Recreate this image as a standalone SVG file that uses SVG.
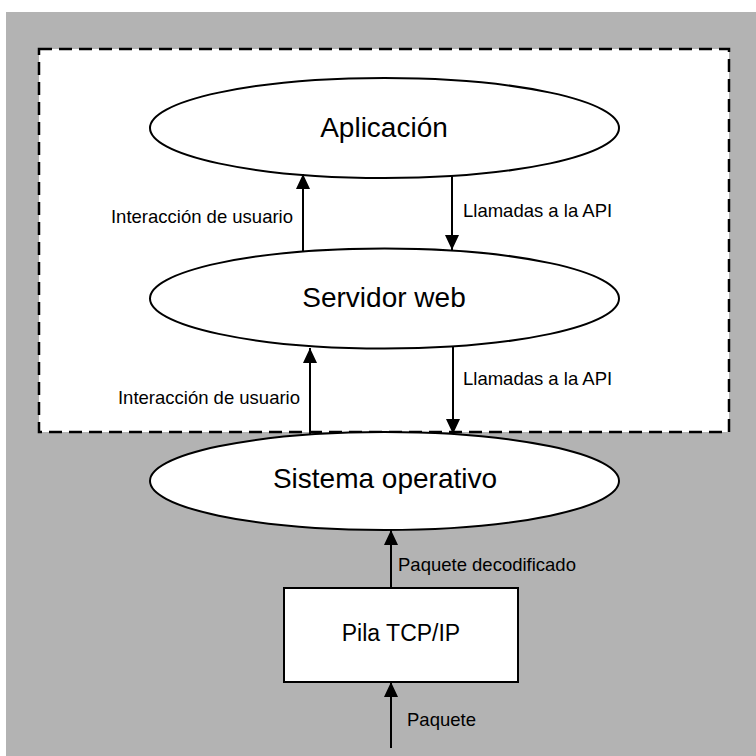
<svg xmlns="http://www.w3.org/2000/svg" width="756" height="756" viewBox="0 0 756 756">
  <style>
    .node { fill: #ffffff; stroke: #000000; stroke-width: 2; }
    .title { font-family: "Liberation Sans", Arial, sans-serif; font-size: 28px; fill: #000000; text-anchor: middle; }
    .box-title { font-family: "Liberation Sans", Arial, sans-serif; font-size: 23px; fill: #000000; text-anchor: middle; }
    .label { font-family: "Liberation Sans", Arial, sans-serif; font-size: 18.5px; fill: #000000; }
    .label-end { text-anchor: end; }
    .edge { stroke: #000000; stroke-width: 2; fill: none; marker-end: url(#arrow); }
  </style>
  <defs>
    <marker id="arrow" markerUnits="userSpaceOnUse" markerWidth="16" markerHeight="16" viewBox="0 0 16 16" refX="15" refY="8" orient="auto">
      <path d="M0,1 L15,8 L0,15 Z" fill="#000000"/>
    </marker>
  </defs>

  <!-- background -->
  <rect x="0" y="0" width="756" height="756" fill="#ffffff"/>
  <rect x="6" y="12" width="750" height="744" fill="#b3b3b3"/>

  <!-- dashed boundary around the web tier -->
  <rect id="web-tier" x="39" y="49" width="690" height="383" fill="#ffffff" stroke="#000000" stroke-width="2.5" stroke-dasharray="13 7"/>

  <g id="aplicacion">
    <ellipse class="node" cx="384.5" cy="128" rx="234.5" ry="50"/>
    <text class="title" x="384" y="137">Aplicación</text>
  </g>

  <g id="servidor-web">
    <ellipse class="node" cx="384.5" cy="298.5" rx="234.5" ry="50"/>
    <text class="title" x="384" y="307">Servidor web</text>
  </g>

  <g id="sistema-operativo">
    <ellipse class="node" cx="384.5" cy="481" rx="234.5" ry="49"/>
    <text class="title" x="385" y="488">Sistema operativo</text>
  </g>

  <g id="pila-tcp-ip">
    <rect class="node" x="284" y="588" width="234" height="94"/>
    <text class="box-title" x="401" y="641">Pila TCP/IP</text>
  </g>

  <g id="connectors">
    <line class="edge" x1="303" y1="251" x2="303" y2="174"/>
    <line class="edge" x1="452" y1="176" x2="452" y2="250"/>
    <line class="edge" x1="310" y1="434" x2="310" y2="348"/>
    <line class="edge" x1="453" y1="347" x2="453" y2="434"/>
    <line class="edge" x1="391" y1="588" x2="391" y2="530"/>
    <line class="edge" x1="391" y1="748" x2="391" y2="682"/>

    <text class="label label-end" x="293" y="223">Interacción de usuario</text>
    <text class="label" x="463" y="217">Llamadas a la API</text>
    <text class="label label-end" x="300" y="404">Interacción de usuario</text>
    <text class="label" x="463" y="385">Llamadas a la API</text>
    <text class="label" x="398" y="571">Paquete decodificado</text>
    <text class="label" x="407" y="726">Paquete</text>
  </g>
</svg>
